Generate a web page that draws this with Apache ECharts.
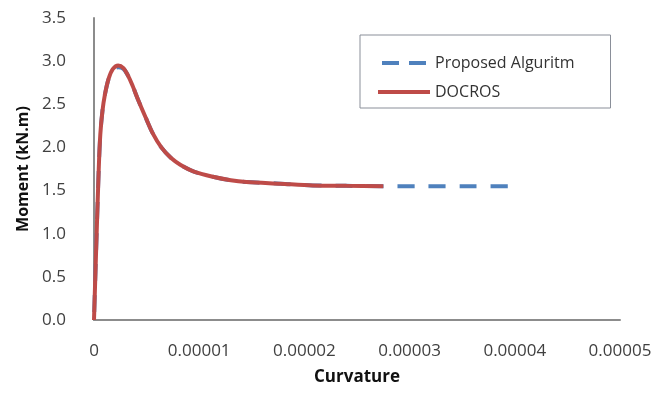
<!DOCTYPE html>
<html>
<head>
<meta charset="utf-8">
<script src="https://cdn.jsdelivr.net/npm/echarts@6/dist/echarts.min.js"></script>
<style>
  html, body { margin: 0; padding: 0; background: #fff; }
  #chart { width: 655px; height: 405px; }
</style>
</head>
<body>
<div id="chart"></div>
<script>
// moment-curvature values
var docrosCurv = [0, 0.2e-6, 0.45e-6, 0.6e-6, 0.8e-6, 1.05e-6, 1.4e-6, 1.8e-6, 2.3e-6, 2.8e-6,
  3.2e-6, 3.65e-6, 4.2e-6, 4.9e-6, 5.6e-6, 6.4e-6, 7.3e-6, 8.2e-6, 9.5e-6, 11.3e-6,
  13e-6, 14.5e-6, 17.7e-6, 20.8e-6, 24e-6, 27.5e-6];
var docrosMoment = [0, 0.8, 1.75, 2.15, 2.42, 2.62, 2.8, 2.91, 2.95, 2.92,
  2.84, 2.72, 2.55, 2.35, 2.16, 2.0, 1.88, 1.8, 1.72, 1.66,
  1.62, 1.6, 1.58, 1.56, 1.555, 1.55];
var proposedCurv = docrosCurv.concat([31e-6, 35e-6, 39.6e-6]);
var proposedMoment = [0, 0.8, 1.75, 2.15, 2.42, 2.62, 2.8, 2.9, 2.93, 2.91,
  2.84, 2.72, 2.55, 2.35, 2.16, 2.0, 1.88, 1.8, 1.72, 1.66,
  1.62, 1.6, 1.58, 1.56, 1.555, 1.55, 1.55, 1.55, 1.55];
var seriesNames = ["Proposed Alguritm", "DOCROS"];

var blue = "#4f81bd";
var red = "#be4b48";

function pairs(xs, ys) {
  return xs.map(function (x, i) { return [x, ys[i]]; });
}

var chart = echarts.init(document.getElementById("chart"));
var font = "'Open Sans', Lato, sans-serif";

chart.setOption({
  animation: false,
  textStyle: { fontFamily: font },
  grid: { left: 94, right: 35, top: 18, bottom: 85 },
  legend: {
    left: 360,
    top: 35,
    orient: "vertical",
    data: [
      { name: seriesNames[0], lineStyle: { color: blue, width: 4, type: [17, 10] } },
      { name: seriesNames[1], lineStyle: { color: red, width: 4 } }
    ],
    itemStyle: { opacity: 0 },
    borderColor: "#8a8f99",
    borderWidth: 1,
    padding: [20, 36, 8, 16],
    itemWidth: 52,
    itemHeight: 14,
    itemGap: 13,
    itemTextGap: 8,
    textStyle: { fontSize: 16, color: "#333", fontFamily: font, lineHeight: 16 }
  },
  xAxis: {
    type: "value",
    min: 0,
    max: 0.00005,
    interval: 0.00001,
    name: "Curvature",
    nameLocation: "middle",
    nameGap: 49,
    nameTextStyle: { fontSize: 17, fontWeight: "bold", color: "#111", fontFamily: font },
    axisLine: { lineStyle: { color: "#8c8c8c", width: 2 } },
    axisTick: { show: false },
    splitLine: { show: false },
    axisLabel: {
      margin: 23,
      fontSize: 17,
      color: "#404040",
      formatter: function (v) { return v === 0 ? "0" : v.toFixed(5); }
    }
  },
  yAxis: {
    type: "value",
    min: 0,
    max: 3.5,
    interval: 0.5,
    name: "Moment (kN.m)",
    nameLocation: "middle",
    nameGap: 58,
    nameTextStyle: { fontSize: 16, fontWeight: "bold", color: "#111", fontFamily: font },
    axisLine: { show: true, lineStyle: { color: "#8c8c8c", width: 2 } },
    axisTick: { show: false },
    splitLine: { show: false },
    axisLabel: {
      margin: 28,
      fontSize: 17,
      color: "#404040",
      formatter: function (v) { return v.toFixed(1); }
    }
  },
  series: [
    {
      name: seriesNames[0],
      type: "line",
      showSymbol: false,
      symbol: "none",
      smooth: 0.3,
      data: pairs(proposedCurv, proposedMoment),
      itemStyle: { color: blue },
      lineStyle: { color: blue, width: 4, type: [17, 14], dashOffset: 23 },
      z: 2
    },
    {
      name: seriesNames[1],
      type: "line",
      showSymbol: false,
      symbol: "none",
      smooth: 0.3,
      data: pairs(docrosCurv, docrosMoment),
      itemStyle: { color: red },
      lineStyle: { color: red, width: 4 },
      z: 3
    }
  ]
});
</script>
</body>
</html>
